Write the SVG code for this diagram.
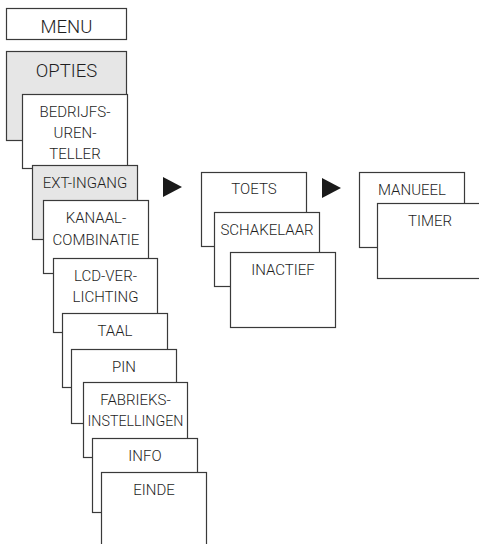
<svg xmlns="http://www.w3.org/2000/svg" width="479" height="544" viewBox="0 0 479 544">
<style>
.b{fill:#ffffff;stroke:#3a3a3a;stroke-width:1.2}
.g{fill:#e6e6e6;stroke:#3a3a3a;stroke-width:1.2}
text{font-family:Roboto,"Liberation Sans",sans-serif;font-size:15px;font-weight:300;fill:#1e1e1e;text-anchor:middle}
.big{font-size:18.5px}
.arr{fill:#1a1a1a}
</style>
<rect width="479" height="544" fill="#ffffff"/>
<g id="menu"><rect class="b" x="6.5" y="8.5" width="120" height="31"/><text class="big" x="66.5" y="33">MENU</text></g>
<g id="opties"><rect class="g" x="6.5" y="51.5" width="120" height="89"/><text class="big" x="66.5" y="77">OPTIES</text></g>
<g id="bedrijfsurenteller"><rect class="b" x="22.5" y="94.5" width="105" height="74"/><text x="75" y="117">BEDRIJFS-</text><text x="75" y="138">UREN-</text><text x="75" y="159">TELLER</text></g>
<g id="extingang"><rect class="g" x="32.5" y="165.5" width="105" height="74"/><text x="85" y="188">EXT-INGANG</text></g>
<g id="kanaalcombinatie"><rect class="b" x="43.5" y="200.5" width="105" height="73"/><text x="96" y="223">KANAAL-</text><text x="96" y="245">COMBINATIE</text></g>
<g id="lcdverlichting"><rect class="b" x="53.5" y="258.5" width="104" height="74"/><text x="105.5" y="281">LCD-VER-</text><text x="105.5" y="302">LICHTING</text></g>
<g id="taal"><rect class="b" x="62.5" y="313.5" width="105" height="74"/><text x="115" y="336">TAAL</text></g>
<g id="pin"><rect class="b" x="71.5" y="349.5" width="105" height="74"/><text x="124" y="372">PIN</text></g>
<g id="fabrieksinstellingen"><rect class="b" x="83.5" y="382.5" width="104" height="75"/><text x="135.5" y="405">FABRIEKS-</text><text x="135.5" y="426" textLength="96" lengthAdjust="spacingAndGlyphs">INSTELLINGEN</text></g>
<g id="info"><rect class="b" x="92.5" y="438.5" width="105" height="74"/><text x="145" y="461">INFO</text></g>
<g id="einde"><rect class="b" x="101.5" y="472.5" width="105" height="80"/><text x="154" y="495">EINDE</text></g>
<g id="toets"><rect class="b" x="201.5" y="172.5" width="105" height="74"/><text x="254" y="194">TOETS</text></g>
<g id="schakelaar"><rect class="b" x="214.5" y="212.5" width="105" height="74"/><text x="267" y="235">SCHAKELAAR</text></g>
<g id="inactief"><rect class="b" x="230.5" y="252.5" width="105" height="75"/><text x="283" y="275">INACTIEF</text></g>
<g id="manueel"><rect class="b" x="359.5" y="172.5" width="105" height="75"/><text x="412" y="195">MANUEEL</text></g>
<g id="timer"><rect class="b" x="377.5" y="203.5" width="110" height="75"/><text x="430" y="226">TIMER</text></g>
<g id="connectors">
<polygon class="arr" points="163,177 182,187 163,197"/>
<polygon class="arr" points="322,178 341,188 322,198"/>
</g>
</svg>
